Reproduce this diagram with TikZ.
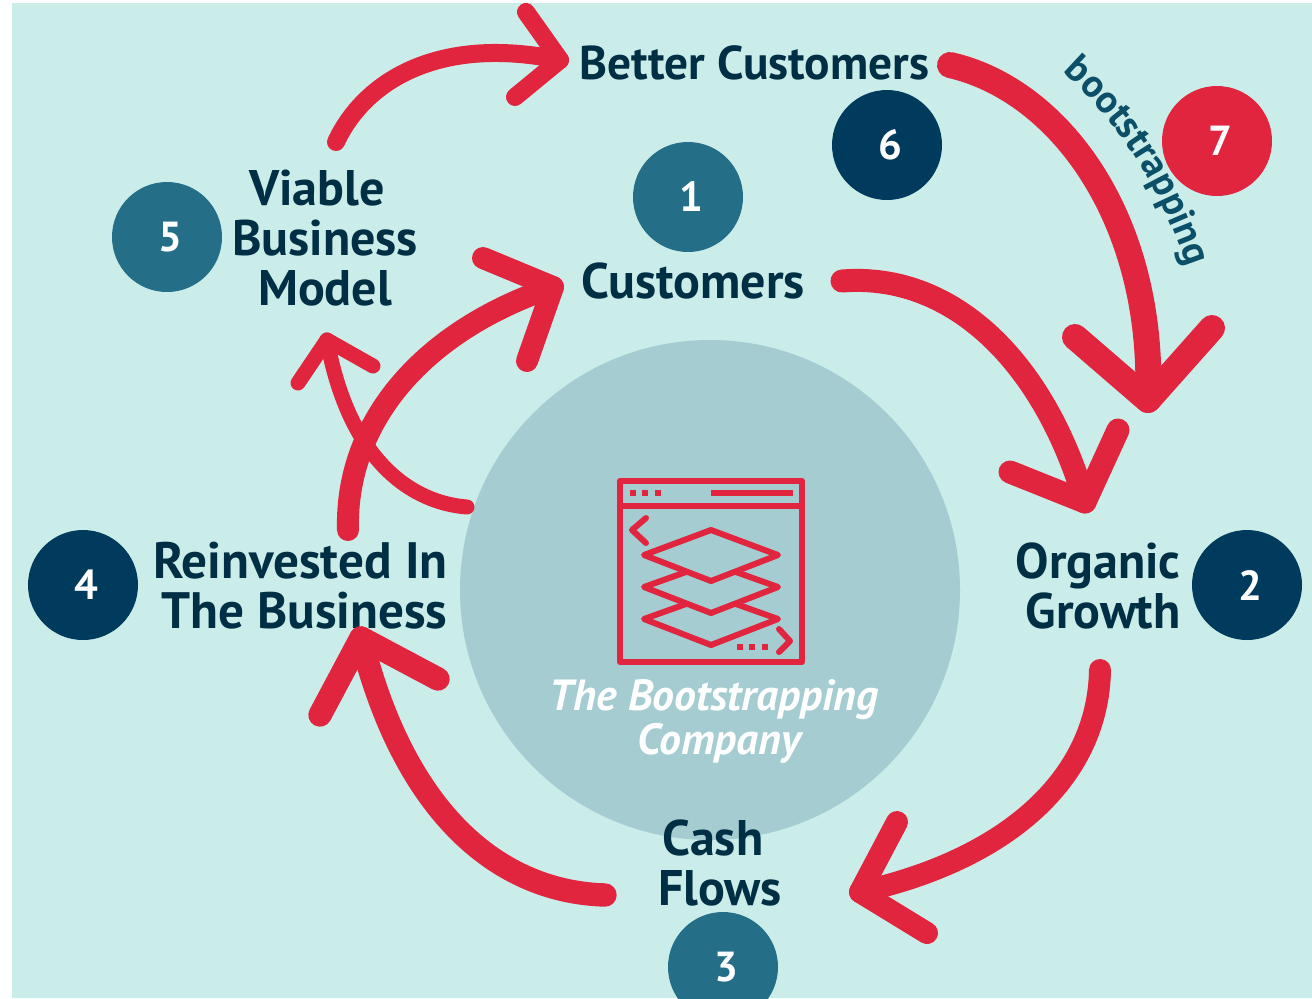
\documentclass[tikz,border=0pt]{standalone}
\usepackage{fontspec}
\setmainfont{PT Sans}
\usetikzlibrary{decorations.text}
\definecolor{bgc}{HTML}{CAEDEA}
\definecolor{hub}{HTML}{A4CCD1}
\definecolor{redc}{HTML}{E1253E}
\definecolor{navy}{HTML}{003B5E}
\definecolor{teal2}{HTML}{246F87}
\definecolor{ink}{HTML}{002F45}
\definecolor{bootc}{HTML}{0B4F68}
\tikzset{
  x=0.5pt,y=-0.5pt,
  conn/.style={draw=redc,line cap=round,line join=round,line width=#1},
  conn/.default=11pt,
  badge/.style={circle,minimum size=55pt,inner sep=0pt,text=white,font=\bfseries\fontsize{21}{21}\selectfont,execute at begin node={\hspace*{3pt}}},
  lbl/.style={text=ink,inner sep=0pt,font=\bfseries\fontsize{25}{25}\selectfont},
  icon/.style={draw=redc,line width=3pt,line join=round,line cap=round},
  icondot/.style={draw=redc,line width=3pt,dash pattern=on 3pt off 3.2pt},
}
\begin{document}
\begin{tikzpicture}
\useasboundingbox (0,0) rectangle (1312,998);
\fill[white] (0,0) rectangle (1312,998);
\begin{scope}
\clip (12,3) rectangle (1312,998);
\fill[bgc] (12,3) rectangle (1312,998);
\node[circle,fill=hub,minimum size=250pt,inner sep=0pt] (hubc) at (710,590) {};
% icon
\coordinate (w1) at (620,481); \coordinate (w2) at (802,662);
\draw[icon] (w1) rectangle (w2);
\draw[icon] (620,506) -- (802,506);
\draw[icondot] (630,493) -- (664,493);
\draw[icon,line cap=butt] (711,493) -- (793,493);
\draw[icon] (646,518) -- (632,530) -- (646,543);
\draw[icon] (711,530) -- (778,555) -- (711,581) -- (644,555) -- cycle;
\draw[icon] (686,572) -- (644,587) -- (711,613) -- (778,587) -- (736,572);
\draw[icon] (686,604) -- (644,619) -- (711,645) -- (778,619) -- (736,604);
\draw[icondot] (737,647) -- (770,647);
\draw[icon] (779,629) -- (790,641) -- (779,652);
\node[text=white,inner sep=0pt,align=center,font=\bfseries\itshape\fontsize{21.8}{22}\selectfont] (title) at (714,721.5) {The Bootstrapping\\\hspace*{5.5pt}Company};
% badges
\node[badge,fill=teal2] (b1) at (688,197) {1};
\node[badge,fill=navy] (b2) at (1247,585) {2};
\node[badge,fill=teal2] (b3) at (723,967) {3};
\node[badge,fill=navy] (b4) at (83,585) {4};
\node[badge,fill=teal2] (b5) at (167,237) {5};
\node[badge,fill=navy] (b6) at (887,145) {6};
\node[badge,fill=redc] (b7) at (1217,141) {7};
% labels
\node[lbl,font=\bfseries\fontsize{23.7}{25}\selectfont] (better) at (754.5,63) {Better Customers};
\node[lbl] (cust) at (693,281) {Customers};
\node[lbl,align=center] (viable) at (325,238) {\hspace*{-8pt}Viable\\Business\\Model};
\node[lbl,align=right,anchor=east,font=\bfseries\fontsize{25.6}{25}\selectfont] (reinv) at (448,586) {Reinvested In\\The Business};
\node[lbl,align=right,anchor=east] (org) at (1181,586) {Organic\\Growth};
\node[lbl,align=center] (cash) at (720,863) {\hspace*{-7pt}Cash\\Flows};
% connectors
\coordinate (as) at (336,142); \coordinate (at) at (560,60); \coordinate (ah1) at (526,12); \coordinate (ah2) at (515,97);
\draw[conn=9pt] (as) .. controls (365,80) and (440,35) .. (at);
\draw[conn=9pt] (ah1) -- (at) -- (ah2);
\coordinate (bs) at (950,65); \coordinate (bt) at (1148,400); \coordinate (bh1) at (1075,337); \coordinate (bh2) at (1212,328);
\draw[conn=13pt] (bs) .. controls (1060,90) and (1155,220) .. (bt);
\draw[conn=13pt] (bh1) -- (bt) -- (bh2);
\coordinate (cs) at (842,281); \coordinate (ct) at (1085,502); \coordinate (ch1) at (1010,472); \coordinate (ch2) at (1118,430);
\draw[conn=11.5pt] (cs) .. controls (955,272) and (1045,365) .. (ct);
\draw[conn=11.5pt] (ch1) -- (ct) -- (ch2);
\coordinate (ds) at (1100,670); \coordinate (dt) at (860,892); \coordinate (dh1) at (897,822); \coordinate (dh2) at (927,933);
\draw[conn=11pt] (ds) .. controls (1098,780) and (1005,860) .. (dt);
\draw[conn=11pt] (dh1) -- (dt) -- (dh2);
\coordinate (es) at (605,895); \coordinate (et) at (361,638); \coordinate (eh1) at (320,715); \coordinate (eh2) at (438,679);
\draw[conn=11.7pt] (es) .. controls (500,892) and (405,815) .. (et);
\draw[conn=11.7pt] (eh1) -- (et) -- (eh2);
\coordinate (fs) at (348,530); \coordinate (ft) at (553,287); \coordinate (fh1) at (483,258); \coordinate (fh2) at (527,361);
\draw[conn=11pt] (fs) .. controls (345,420) and (425,330) .. (ft);
\draw[conn=11pt] (fh1) -- (ft) -- (fh2);
\coordinate (gs) at (467,507); \coordinate (gt) at (327,340); \coordinate (gh1) at (298,383); \coordinate (gh2) at (373,366);
\draw[conn=7.5pt] (gs) .. controls (415,503) and (350,465) .. (gt);
\draw[conn=7.5pt] (gh1) -- (gt) -- (gh2);
% curved label
\path[decorate,decoration={text along path,text align=center,
  text={|\bfseries\fontsize{19.5}{19.5}\selectfont\color{bootc}|bootstrapping}}]
  (1056,66) .. controls (1120,120) and (1162,190) .. (1190,276);
\end{scope}
\end{tikzpicture}
\end{document}
